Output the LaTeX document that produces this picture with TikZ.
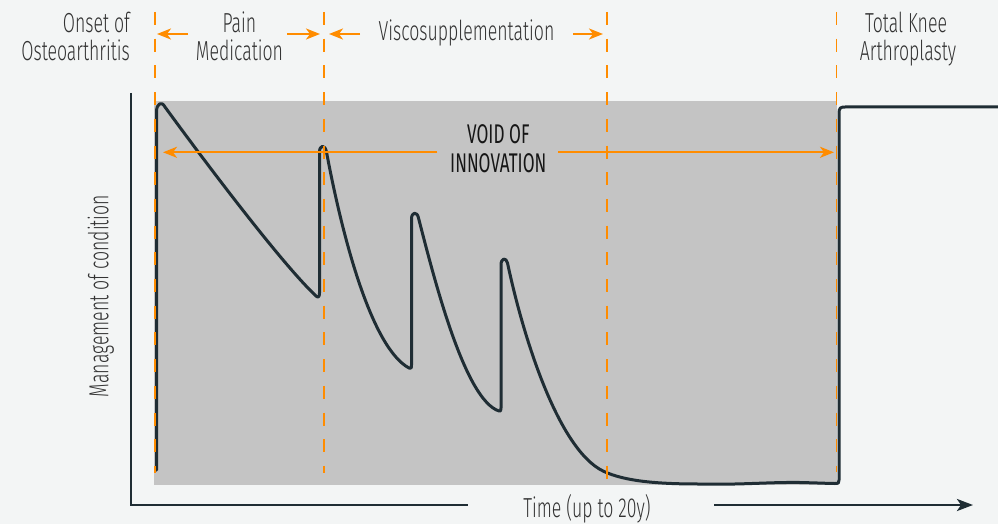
\documentclass[tikz,border=0pt]{standalone}
\usepackage{fontspec}
\setmainfont{Fira Sans}
\newfontfamily\labelfont{Fira Sans Light}[FakeStretch=0.643]
\newfontfamily\voidfont{Fira Sans}[FakeStretch=0.636]
\usetikzlibrary{arrows.meta}
\definecolor{bgcol}{RGB}{243,245,245}
\definecolor{voidgray}{RGB}{196,196,196}
\definecolor{ink}{RGB}{31,45,52}
\definecolor{marker}{RGB}{255,140,0}
\definecolor{txt}{RGB}{51,51,51}
\definecolor{voidtxt}{RGB}{22,22,22}

\begin{document}
\begin{tikzpicture}[x=1pt,y=-1pt,
  lbl/.style={font=\labelfont\fontsize{27.5}{28}\selectfont, text=txt, inner sep=0pt},
  voidlbl/.style={font=\voidfont\fontsize{27}{28}\selectfont, text=voidtxt, inner sep=0pt},
  phase/.style={draw=marker, line width=1.6pt, dash pattern=on 13pt off 13.7pt},
  span/.style={draw=marker, line width=2pt, -{Stealth[length=14pt,width=11pt,inset=4pt]}},
  curve/.style={draw=ink, line width=3pt, line join=round, line cap=round},
  axis/.style={draw=ink, line width=2.6pt}]

% canvas
\fill[bgcol] (0,0) rectangle (998,524);
\useasboundingbox (0,0) rectangle (998,524);

% shaded period without new treatments
\fill[voidgray] (154,101.5) rectangle (837,485);

% axes
\coordinate (ytop) at (131,93);
\coordinate (origin) at (131,505);
\coordinate (xmid) at (468,505);
\coordinate (xresume) at (714,505);
\coordinate (xend) at (973,505);
\draw[axis] (ytop) -- (origin) -- (xmid);
\draw[axis, -{Stealth[length=16pt,width=12pt,inset=4pt]}] (xresume) -- (xend);

% management of condition over time
\draw[curve] (156.5,470) -- (156.5,112)
  .. controls (156.5,103) and (162,101) .. (165,107)
  .. controls (200,155) and (280,262) .. (316,296)
  .. controls (318,298) and (319.5,297) .. (319.5,293)
  -- (319.5,152)
  .. controls (319.5,145) and (325,144) .. (326.5,152)
  .. controls (343,240) and (372,348) .. (409,368)
  .. controls (411,369) and (411.5,368) .. (411.5,365)
  -- (411.5,219)
  .. controls (411.5,212) and (417,211) .. (418.5,218)
  .. controls (435,282) and (465,400) .. (499,411)
  .. controls (500.5,411.5) and (501,411) .. (501,408)
  -- (501,265)
  .. controls (501,258) and (506,257) .. (507.5,263)
  .. controls (525,345) and (560,450) .. (603,471)
  .. controls (625,481.7) and (660,484) .. (700,484)
  .. controls (740,485) and (770,482) .. (800,482.5)
  .. controls (820,483) and (830,483.5) .. (835,483.5)
  .. controls (838.5,483.5) and (839,483) .. (839,480)
  -- (839,113)
  .. controls (839,108) and (840.5,107) .. (845,107)
  -- (998,107);

% phase boundaries
\coordinate (onsetT) at (155,12);   \coordinate (onsetB) at (155,473);
\coordinate (viscoT) at (324,12);   \coordinate (viscoB) at (324,473);
\coordinate (viscoE) at (607,12);   \coordinate (viscoEB) at (607,482);
\coordinate (tkaT) at (836.5,12);   \coordinate (tkaB) at (836.5,472);
\draw[phase] (onsetT) -- (onsetB);
\draw[phase] (viscoT) -- (viscoB);
\draw[phase] (viscoE) -- (viscoEB);
\draw[phase] (tkaT) -- (tkaB);

% labels
\node[lbl, anchor=base east] (onset1) at (130,33) {Onset of};
\node[lbl, anchor=base east] (onset2) at (130,61) {Osteoarthritis};
\node[lbl, anchor=base] (pain1) at (239.5,33) {Pain};
\node[lbl, anchor=base] (pain2) at (239.5,61) {Medication};
\node[lbl, anchor=base] (visco) at (466.5,40.7) {Viscosupplementation};
\node[lbl, anchor=base] (tka1) at (906,33) {Total Knee};
\node[lbl, anchor=base] (tka2) at (908,61) {Arthroplasty};
\node[lbl, anchor=base, rotate=90] (ylabel) at (108.3,296) {Management of condition};
\node[lbl, anchor=base] (xlabel) at (587,517.3) {Time (up to 20y)};
\node[voidlbl, anchor=base] (void1) at (498.3,143.3) {VOID OF};
\node[voidlbl, anchor=base] (void2) at (498.3,172.5) {INNOVATION};

% phase spans
\coordinate (painL) at (188,34);   \coordinate (painLtip) at (157,34);
\coordinate (painR) at (287,34);   \coordinate (painRtip) at (320,34);
\coordinate (viscoL) at (360,34);  \coordinate (viscoLtip) at (329,34);
\coordinate (viscoR) at (573,34);  \coordinate (viscoRtip) at (603,34);
\draw[span] (painL) -- (painLtip);
\draw[span] (painR) -- (painRtip);
\draw[span] (viscoL) -- (viscoLtip);
\draw[span] (viscoR) -- (viscoRtip);

% span of the void
\coordinate (voidL) at (437.3,152.3); \coordinate (voidLtip) at (163,152.3);
\coordinate (voidR) at (558.3,152.3); \coordinate (voidRtip) at (834,152.3);
\draw[span] (voidL) -- (voidLtip);
\draw[span] (voidR) -- (voidRtip);
\end{tikzpicture}
\end{document}
